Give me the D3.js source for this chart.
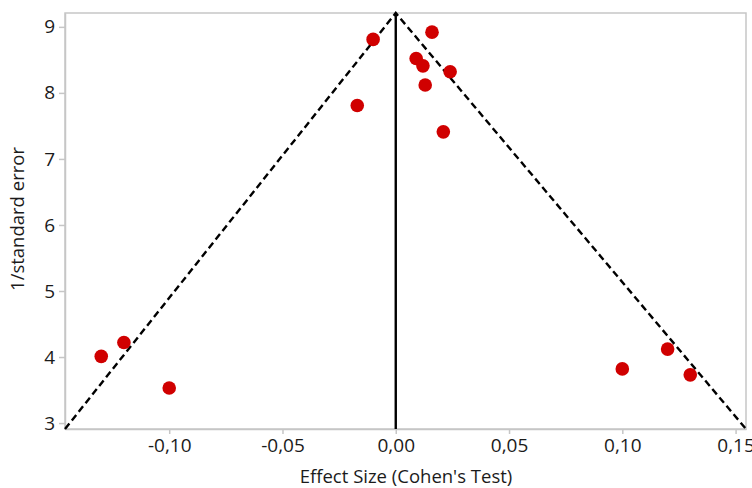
<!DOCTYPE html>
<html>
<head>
<meta charset="utf-8">
<script src="https://cdn.jsdelivr.net/npm/d3@7"></script>
<style>
  body { margin: 0; background: #fff; }
  svg { display: block; }
  text { font-family: "Open Sans", sans-serif; }
  .axis text { font-size: 19px; fill: #1b1b1b; }
  .axis path, .axis line { stroke: #c6c6c6; stroke-width: 1.5; }
  .label { font-size: 18.5px; fill: #1b1b1b; }
</style>
</head>
<body>
<svg class="chart" width="752" height="488"></svg>
<script>

// studies: effect size and precision (1/standard error)
const effectSize = [-0.130, -0.120, -0.100, -0.010, -0.017, 0.016, 0.009, 0.012, 0.024, 0.013, 0.021, 0.100, 0.120, 0.130];
const precision  = [4.01, 4.22, 3.53, 8.81, 7.81, 8.92, 8.52, 8.41, 8.32, 8.12, 7.41, 3.82, 4.12, 3.73];

const xTicks = [-0.10, -0.05, 0.00, 0.05, 0.10, 0.15];
const yTicks = [3, 4, 5, 6, 7, 8, 9];

const xDomain = [-0.146, 0.1546];
const yDomain = [2.91, 9.21];

const margin = { top: 13, right: 6, bottom: 59, left: 65 };
const W = 752, H = 488;

const svg = d3.select('.chart');

const x = d3.scaleLinear().domain(xDomain).range([margin.left, W - margin.right]);
const y = d3.scaleLinear().domain(yDomain).range([H - margin.bottom, margin.top]);

const comma = d => d3.format('.2f')(d).replace('.', ',').replace('−', '-');

// frame (top and right)
svg.append('rect')
    .attr('x', x.range()[0])
    .attr('y', y.range()[1])
    .attr('width', x.range()[1] - x.range()[0])
    .attr('height', y.range()[0] - y.range()[1])
    .attr('fill', 'none')
    .attr('stroke', '#c6c6c6')
    .attr('stroke-width', 1.5);

svg.append('g')
    .attr('class', 'axis')
    .attr('transform', `translate(0,${y.range()[0]})`)
    .call(d3.axisBottom(x).tickValues(xTicks).tickFormat(comma).tickSize(5).tickSizeOuter(0).tickPadding(5));

svg.append('g')
    .attr('class', 'axis')
    .attr('transform', `translate(${x.range()[0]},0)`)
    .call(d3.axisLeft(y).tickValues(yTicks).tickFormat(d3.format('d')).tickSize(6).tickSizeOuter(0).tickPadding(4));

// funnel
const apex = [0, yDomain[1]];
const funnel = d3.line().x(d => x(d[0])).y(d => y(d[1]));

svg.append('path')
    .attr('d', funnel([[xDomain[0], yDomain[0]], apex, [xDomain[1], yDomain[0]]]))
    .attr('fill', 'none')
    .attr('stroke', '#000')
    .attr('stroke-width', 2.4)
    .attr('stroke-dasharray', '7,4');

svg.append('line')
    .attr('x1', x(0)).attr('x2', x(0))
    .attr('y1', y(yDomain[0])).attr('y2', y(yDomain[1]))
    .attr('stroke', '#000')
    .attr('stroke-width', 2.4);

// studies
svg.append('g')
    .selectAll('circle')
    .data(effectSize)
    .join('circle')
    .attr('cx', d => x(d))
    .attr('cy', (d, i) => y(precision[i]))
    .attr('r', 6.8)
    .attr('fill', '#d00000');

svg.append('text')
    .attr('class', 'label')
    .attr('x', 406)
    .attr('y', 483)
    .attr('text-anchor', 'middle')
    .text("Effect Size (Cohen's Test)");

svg.append('text')
    .attr('class', 'label')
    .attr('transform', `translate(24,219) rotate(-90)`)
    .attr('text-anchor', 'middle')
    .text('1/standard error');

</script>
</body>
</html>
